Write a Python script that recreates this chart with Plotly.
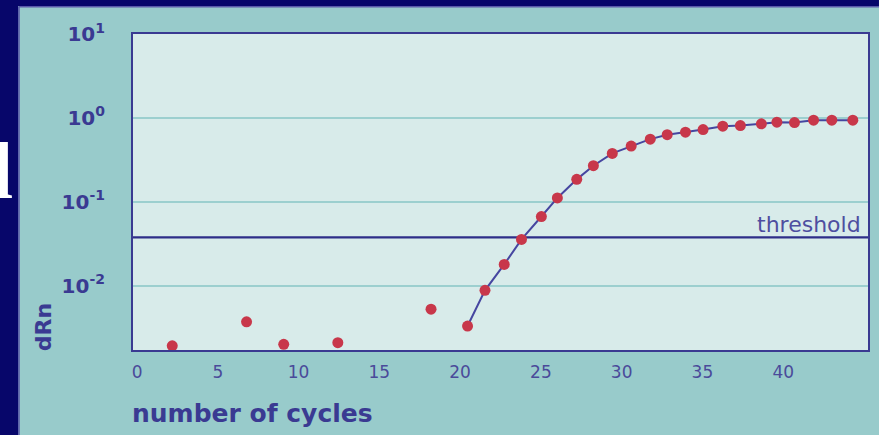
import math
import plotly.graph_objects as go

# ---- data ----
baseline_cycles = [2.18, 6.78, 9.08, 12.43, 18.20]
baseline_drn = [0.00192, 0.00371, 0.00200, 0.00209, 0.00524]

amp_cycles = [20.46, 21.54, 22.73, 23.80, 25.03, 26.02, 27.22, 28.25, 29.42, 30.59,
              31.77, 32.82, 33.95, 35.04, 36.26, 37.35, 38.65, 39.61, 40.70, 41.88,
              43.01, 44.31]
amp_drn = [0.00330, 0.0088, 0.0179, 0.0356, 0.0667, 0.111, 0.185, 0.269, 0.377, 0.461,
           0.558, 0.631, 0.676, 0.726, 0.797, 0.811, 0.849, 0.889, 0.880, 0.939,
           0.939, 0.939]

threshold = 0.0376
x_range = [-0.25, 45.25]
y_log_range = [-2.767, 1.0]
x_ticks = [0, 5, 10, 15, 20, 25, 30, 35, 40]
y_ticks = [0.01, 0.1, 1, 10]
y_tick_text = ["10<sup>-2</sup>", "10<sup>-1</sup>", "10<sup>0</sup>", "10<sup>1</sup>"]

NAVY = "#3a3a92"
TEAL = "#98cbcb"
PLOT_BG = "#d8ebea"
RED = "#c8374a"

fig = go.Figure()

# threshold line
fig.add_trace(go.Scatter(x=x_range, y=[threshold, threshold], mode="lines",
                         line=dict(color="#2e2e88", width=2.2),
                         hoverinfo="skip", showlegend=False))
# amplification curve
fig.add_trace(go.Scatter(x=amp_cycles, y=amp_drn, mode="lines+markers",
                         line=dict(color="#4646a0", width=2),
                         marker=dict(color=RED, size=11),
                         showlegend=False))
# baseline points
fig.add_trace(go.Scatter(x=baseline_cycles, y=baseline_drn, mode="markers",
                         marker=dict(color=RED, size=11),
                         showlegend=False))

L, R, T, B = 133, 9, 34, 85
W, H = 879, 435
pw, ph = W - L - R, H - T - B


def px(x):
    return (x - L) / pw


def py(y):
    return (H - B - y) / ph


shapes = [
    # navy slide frame (left band and top band)
    dict(type="rect", xref="paper", yref="paper", x0=px(-2), x1=px(18), y0=py(437), y1=py(-2),
         fillcolor="#07066a", line=dict(width=0), layer="below"),
    dict(type="rect", xref="paper", yref="paper", x0=px(-2), x1=px(881), y0=py(6), y1=py(-2),
         fillcolor="#07066a", line=dict(width=0), layer="below"),
    dict(type="line", xref="paper", yref="paper", x0=px(18.7), x1=px(18.7), y0=py(437), y1=py(6.7),
         line=dict(color="#5a5aaa", width=1.5)),
    dict(type="line", xref="paper", yref="paper", x0=px(18.7), x1=px(881), y0=py(6.7), y1=py(6.7),
         line=dict(color="#5a5aaa", width=1.5)),
]

annotations = [
    dict(text="threshold", xref="paper", yref="y", x=px(865), y=math.log10(threshold),
         xanchor="right", yanchor="bottom", yshift=-2, showarrow=False,
         font=dict(family="DejaVu Sans", size=22, color="#4e4ea0")),
    dict(text="dRn", xref="paper", yref="paper", x=px(43), y=py(327), textangle=-90,
         xanchor="center", yanchor="middle", showarrow=False,
         font=dict(family="DejaVu Sans", size=22, color=NAVY, weight="bold")),
    dict(text="number of cycles", xref="paper", yref="paper", x=px(130), y=py(413),
         xanchor="left", yanchor="middle", showarrow=False,
         font=dict(family="DejaVu Sans", size=25, color=NAVY, weight="bold")),
    dict(text="l", xref="paper", yref="paper", x=px(15), y=py(171),
         xanchor="right", yanchor="middle", showarrow=False,
         font=dict(family="Liberation Serif", size=80, color="white", weight="bold")),
]

fig.update_layout(
    width=W, height=H,
    margin=dict(l=L, r=R, t=T, b=B, pad=0),
    paper_bgcolor=TEAL,
    plot_bgcolor=PLOT_BG,
    shapes=shapes,
    annotations=annotations,
    showlegend=False,
    xaxis=dict(range=x_range, tickvals=x_ticks, showgrid=False, zeroline=False,
               showline=True, mirror=True, linecolor=NAVY, linewidth=2,
               ticks="outside", ticklen=6, tickcolor="rgba(0,0,0,0)",
               tickfont=dict(family="DejaVu Sans", size=17, color="#4a4a9a")),
    yaxis=dict(type="log", range=y_log_range, tickvals=y_ticks, ticktext=y_tick_text,
               showgrid=True, gridcolor="#9ccfcf", gridwidth=1.5, zeroline=False,
               showline=True, mirror=True, linecolor=NAVY, linewidth=2,
               ticks="outside", ticklen=22, tickcolor="rgba(0,0,0,0)",
               tickfont=dict(family="DejaVu Sans", size=20, color=NAVY, weight="bold")),
)

fig.write_html("out.html", config={"displayModeBar": False},
               post_script="document.body.style.margin='0';document.body.style.overflow='hidden';")
